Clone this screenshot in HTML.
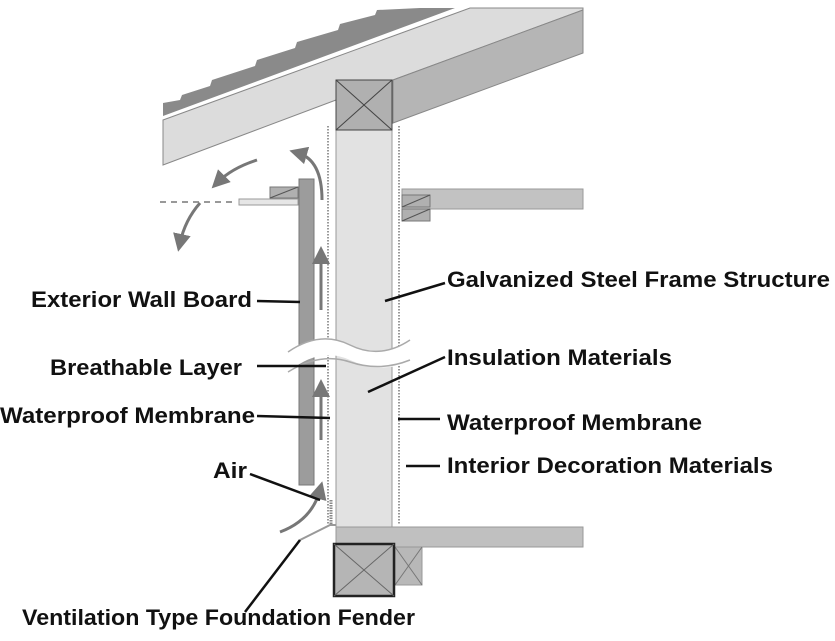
<!DOCTYPE html>
<html><head><meta charset="utf-8"><style>
html,body{margin:0;padding:0;background:#fff;}
svg{display:block}
text{font-family:"Liberation Sans",Arial,sans-serif;font-weight:bold;font-size:22px;fill:#111;}
</style></head><body>
<svg width="835" height="641" viewBox="0 0 835 641" xmlns="http://www.w3.org/2000/svg">
<defs>
<marker id="ah" markerWidth="6" markerHeight="6" refX="3" refY="3" orient="auto" markerUnits="strokeWidth">
<path d="M0,0 L6,3 L0,6 z" fill="#777"/></marker>
</defs>
<!-- roof light band -->
<polygon points="163,120 470,8 583,8 583,10 393,80 336,100 163,165" fill="#dcdcdc" stroke="#888" stroke-width="1"/>
<!-- shingles -->
<polygon points="163,103 180,100 182,95 210,86 212,80 255,66 257,60 295,48 297,42 338,30 340,24 375,15 377,10 420,8 455,8 163,116" fill="#8a8a8a"/>
<line x1="163" y1="118" x2="460" y2="9" stroke="#fff" stroke-width="2"/>
<!-- right rafter face -->
<polygon points="393,80 583,10 583,53 393,123" fill="#b5b5b5" stroke="#888" stroke-width="1"/>
<!-- column -->
<rect x="336" y="130" width="56" height="397" fill="#e2e2e2" stroke="#999" stroke-width="1"/>
<rect x="336" y="80" width="56" height="50" fill="#b0b0b0" stroke="#444" stroke-width="1"/>
<line x1="336" y1="80" x2="392" y2="130" stroke="#444"/><line x1="392" y1="80" x2="336" y2="130" stroke="#444"/>
<!-- dotted membranes -->
<line x1="328" y1="126" x2="328" y2="525" stroke="#999" stroke-width="2" stroke-dasharray="1.5,1.5"/>
<line x1="399" y1="126" x2="399" y2="525" stroke="#999" stroke-width="2" stroke-dasharray="1.5,1.5"/>
<!-- right beam -->
<rect x="402" y="189" width="181" height="20" fill="#c2c2c2" stroke="#999"/>
<rect x="402" y="195" width="28" height="12" fill="#b0b0b0" stroke="#777"/>
<rect x="402" y="209" width="28" height="12" fill="#b0b0b0" stroke="#777"/>
<line x1="402" y1="207" x2="430" y2="195" stroke="#555"/><line x1="402" y1="221" x2="430" y2="209" stroke="#555"/>
<!-- left rafter -->
<rect x="239" y="199" width="59" height="6" fill="#e6e6e6" stroke="#999"/>
<rect x="270" y="187" width="28" height="11" fill="#b0b0b0" stroke="#777"/>
<line x1="270" y1="198" x2="298" y2="187" stroke="#555"/>
<line x1="160" y1="202" x2="237" y2="202" stroke="#999" stroke-width="2" stroke-dasharray="6,5"/>
<!-- exterior board -->
<rect x="299" y="179" width="15" height="306" fill="#9c9c9c" stroke="#777"/>
<!-- air arrows -->
<path d="M322,200 Q322,160 298,153" fill="none" stroke="#777" stroke-width="3" marker-end="url(#ah)"/>
<path d="M257,160 Q232,168 218,182" fill="none" stroke="#777" stroke-width="3" marker-end="url(#ah)"/>
<path d="M200,203 Q185,220 180,243" fill="none" stroke="#777" stroke-width="3" marker-end="url(#ah)"/>
<line x1="321" y1="310" x2="321" y2="255" stroke="#777" stroke-width="3" marker-end="url(#ah)"/>
<line x1="321" y1="440" x2="321" y2="388" stroke="#777" stroke-width="3" marker-end="url(#ah)"/>
<path d="M280,532 Q312,520 320,490" fill="none" stroke="#777" stroke-width="3" marker-end="url(#ah)"/>
<!-- wavy break -->
<path d="M288,352 Q320,330 350,345 T410,340 L410,362 Q380,374 350,360 T288,372 Z" fill="#fff"/>
<path d="M288,352 Q320,330 350,345 T410,340" fill="none" stroke="#aaa" stroke-width="1.5"/>
<path d="M288,372 Q320,352 350,362 T410,360" fill="none" stroke="#aaa" stroke-width="1.5"/>
<!-- fender -->
<path d="M300,540 L330,525 L336,525" fill="none" stroke="#999" stroke-width="2"/>
<line x1="331" y1="500" x2="331" y2="525" stroke="#888" stroke-width="3" stroke-dasharray="1.5,1"/>
<!-- floor -->
<rect x="336" y="527" width="247" height="20" fill="#c0c0c0" stroke="#999"/>
<rect x="395" y="547" width="27" height="38" fill="#b8b8b8" stroke="#999"/>
<line x1="395" y1="547" x2="422" y2="585" stroke="#777"/><line x1="422" y1="547" x2="395" y2="585" stroke="#777"/>
<rect x="334" y="544" width="60" height="52" fill="#b5b5b5" stroke="#222" stroke-width="2.5"/>
<line x1="334" y1="544" x2="394" y2="596" stroke="#666"/><line x1="394" y1="544" x2="334" y2="596" stroke="#666"/>
<!-- leaders -->
<g stroke="#111" stroke-width="2.5" fill="none">
<line x1="257" y1="301" x2="300" y2="302"/>
<line x1="445" y1="283" x2="385" y2="301"/>
<line x1="257" y1="366" x2="326" y2="366"/>
<line x1="445" y1="357" x2="368" y2="392"/>
<line x1="257" y1="416" x2="330" y2="418"/>
<line x1="398" y1="419" x2="440" y2="419"/>
<line x1="406" y1="466" x2="440" y2="466"/>
<line x1="250" y1="474" x2="320" y2="500"/>
<line x1="245" y1="612" x2="300" y2="540"/>
</g>
<!-- labels -->
<text x="447" y="287" textLength="383" lengthAdjust="spacingAndGlyphs">Galvanized Steel Frame Structure</text>
<text x="31" y="307" textLength="221" lengthAdjust="spacingAndGlyphs">Exterior Wall Board</text>
<text x="447" y="365" textLength="225" lengthAdjust="spacingAndGlyphs">Insulation Materials</text>
<text x="50" y="375" textLength="192" lengthAdjust="spacingAndGlyphs">Breathable Layer</text>
<text x="0" y="423" textLength="255" lengthAdjust="spacingAndGlyphs">Waterproof Membrane</text>
<text x="447" y="430" textLength="255" lengthAdjust="spacingAndGlyphs">Waterproof Membrane</text>
<text x="447" y="473" textLength="326" lengthAdjust="spacingAndGlyphs">Interior Decoration Materials</text>
<text x="213" y="478" textLength="34" lengthAdjust="spacingAndGlyphs">Air</text>
<text x="22" y="625" textLength="393" lengthAdjust="spacingAndGlyphs">Ventilation Type Foundation Fender</text>
</svg>
</body></html>
